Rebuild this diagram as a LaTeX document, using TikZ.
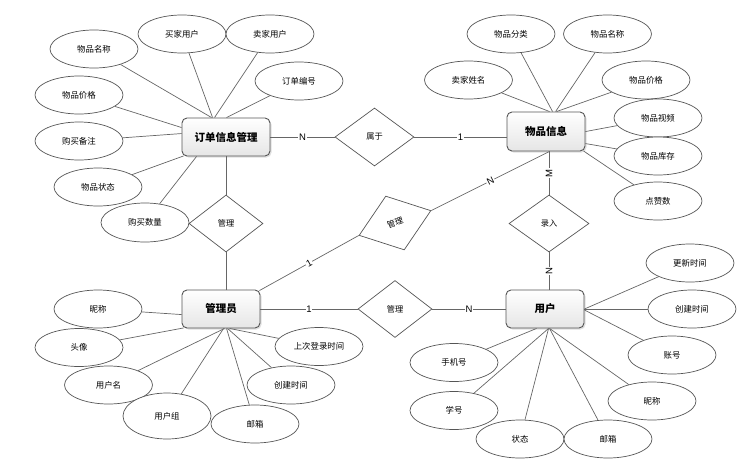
\documentclass[tikz,border=0pt]{standalone}
\usepackage{fontspec}
\setmainfont{Noto Sans CJK SC}
\newfontfamily\latinlab{Liberation Sans}
\usetikzlibrary{shapes.geometric,shadows,calc}
\definecolor{ln}{HTML}{666666}
\definecolor{bd}{HTML}{555555}
\begin{document}
\begin{tikzpicture}[x=1pt,y=-1pt,
 attr/.style={ellipse,draw=bd,line width=0.7pt,fill=white,minimum width=88pt,minimum height=38pt,inner sep=0pt,font=\fontsize{8.4}{10}\selectfont},
 ent/.style={rectangle,rounded corners=5pt,draw=bd,line width=0.9pt,top color=white,bottom color=black!10,drop shadow={shadow xshift=1.5pt,shadow yshift=-1.5pt,opacity=0.25},minimum width=78pt,minimum height=38pt,inner sep=0pt,font=\fontsize{10.5}{12}\selectfont\bfseries},
 rel/.style={diamond,draw=bd,line width=0.7pt,fill=white,minimum width=74pt,minimum height=57pt,inner sep=0pt,font=\fontsize{8.2}{10}\selectfont},
 lnk/.style={draw=ln,line width=0.7pt},
 lab/.style={fill=white,inner sep=0.8pt,font=\latinlab\fontsize{9.5}{10}\selectfont}]
\useasboundingbox (0,0) rectangle (745,474);

% entities
\node[ent,minimum width=88pt] (order) at (226,137) {订单信息管理};
\node[ent,minimum height=39pt] (goods) at (546,131.5) {物品信息};
\node[ent] (admin) at (221,309) {管理员};
\node[ent] (user) at (545,309) {用户};

% relations
\node[rel] (r1) at (226,223.5) {管理};
\node[rel,minimum width=79pt,minimum height=58pt] (r2) at (374.5,137) {属于};
\node[rel,minimum width=80pt] (r3) at (549,223.5) {录入};
\node[rel] (r4) at (395,309) {管理};
\node[rel,minimum width=76pt,rotate=19] (r5) at (395,223) {管理};

% order attributes
\node[attr] (o1) at (94,49) {物品名称};
\node[attr] (o2) at (182,34) {买家用户};
\node[attr] (o3) at (270,34) {卖家用户};
\node[attr] (o4) at (299,81) {订单编号};
\node[attr] (o5) at (79,95) {物品价格};
\node[attr] (o6) at (79,141) {购买备注};
\node[attr] (o7) at (98,187) {物品状态};
\node[attr,minimum height=39pt] (o8) at (145,222.5) {购买数量};

% goods attributes
\node[attr] (g1) at (511,34) {物品分类};
\node[attr] (g2) at (607.5,34) {物品名称};
\node[attr] (g3) at (468.5,80) {卖家姓名};
\node[attr] (g4) at (646,80) {物品价格};
\node[attr] (g5) at (658,118) {物品视频};
\node[attr] (g6) at (658,156) {物品库存};
\node[attr] (g7) at (658,201) {点赞数};

% admin attributes
\node[attr] (a1) at (98,309) {昵称};
\node[attr] (a2) at (79,347.5) {头像};
\node[attr] (a3) at (108.5,385) {用户名};
\node[attr,minimum height=46pt] (a4) at (167,416) {用户组};
\node[attr] (a5) at (255,424) {邮箱};
\node[attr] (a6) at (291,385) {创建时间};
\node[attr] (a7) at (319,346.5) {上次登录时间};

% user attributes
\node[attr] (u1) at (690,263) {更新时间};
\node[attr] (u2) at (692,309) {创建时间};
\node[attr] (u3) at (672,355) {账号};
\node[attr] (u4) at (454,362.5) {手机号};
\node[attr] (u5) at (454,410.5) {学号};
\node[attr] (u6) at (520,439) {状态};
\node[attr] (u7) at (608,439) {邮箱};
\node[attr] (u8) at (652,401) {昵称};

% order links
\draw[lnk] (o1) -- ([xshift=30pt]order.north west);
\draw[lnk] (o2) -- ([xshift=31pt]order.north west);
\draw[lnk] (o3) -- ([xshift=33pt]order.north west);
\draw[lnk] (o4) -- ([xshift=45pt]order.north west);
\draw[lnk] (o5) -- ([yshift=-10pt]order.north west);
\draw[lnk] (o6) -- ([yshift=-16pt]order.north west);
\draw[lnk] (o7) -- ([xshift=2pt,yshift=0.5pt]order.south west);
\draw[lnk] (o8) -- ([xshift=15pt]order.south west);
\draw[lnk] (r1.north) -- (order.south);
\draw[lnk] (order.east) -- node[lab]{N} (r2.west);

% goods links
\draw[lnk] (g1) -- ([xshift=46pt]goods.north west);
\draw[lnk] (g2) -- ([xshift=49pt]goods.north west);
\draw[lnk] (g3) -- ([xshift=43pt]goods.north west);
\draw[lnk] (g4) -- ([xshift=50pt]goods.north west);
\draw[lnk] (g5) -- ([yshift=-20pt]goods.north east);
\draw[lnk] (g6) -- ([yshift=-32pt]goods.north east);
\draw[lnk] (g7) -- ([xshift=-2pt,yshift=0.5pt]goods.south east);
\draw[lnk] (r2.east) -- node[lab]{1} (r2.east -| goods.west);
\draw[lnk] (r3.north |- goods.south) -- node[lab,rotate=90]{M} (r3.north);
\draw[lnk] (r5.east) -- node[lab,sloped]{N} ([xshift=43pt]goods.south west);

% admin links
\draw[lnk] (a1) -- ([yshift=-25pt]admin.north west);
\draw[lnk] (a2) -- ([xshift=2pt,yshift=0.5pt]admin.south west);
\draw[lnk] (a3) -- ([xshift=43pt]admin.south west);
\draw[lnk] (a4) -- ([xshift=42pt]admin.south west);
\draw[lnk] (a5) -- ([xshift=45pt]admin.south west);
\draw[lnk] (a6) -- ([xshift=46pt]admin.south west);
\draw[lnk] (a7) -- ([xshift=48pt]admin.south west);
\draw[lnk] (r1.south) -- (r1.south |- admin.north);
\draw[lnk] (admin.east) -- node[lab]{1} (r4.west);
\draw[lnk] ([xshift=-1pt,yshift=-1pt]admin.north east) -- node[lab,sloped]{1} (r5.west);

% user links
\draw[lnk] (u1) -- (user.east);
\draw[lnk] (u2) -- (user.east);
\draw[lnk] (u3) -- ([yshift=-1pt]user.east);
\draw[lnk] (u4) -- ([xshift=31pt]user.south west);
\draw[lnk] (u5) -- ([xshift=43pt]user.south west);
\draw[lnk] (u6) -- ([xshift=43pt]user.south west);
\draw[lnk] (u7) -- ([xshift=44pt]user.south west);
\draw[lnk] (u8) -- ([xshift=44pt]user.south west);
\draw[lnk] (r3.south) -- node[lab,rotate=90]{N} (r3.south |- user.north);
\draw[lnk] (r4.east) -- node[lab]{N} (user.west);
\end{tikzpicture}
\end{document}
